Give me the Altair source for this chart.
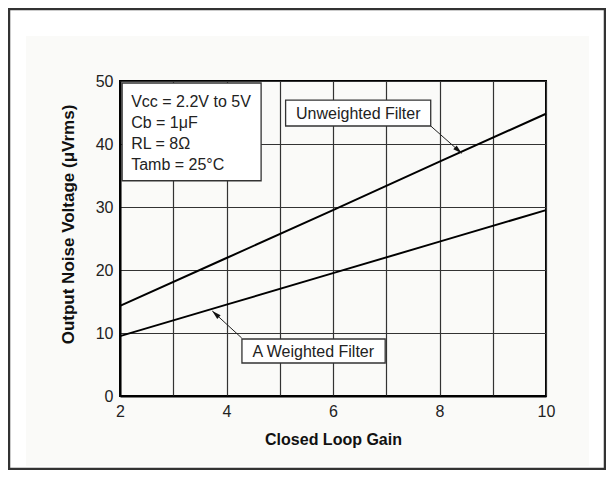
import math
import altair as alt
import pandas as pd

# ---- data ----
gain = [2, 4, 6, 8, 10]
unweighted = [14.3, 21.9, 29.5, 37.2, 44.8]
a_weighted = [9.5, 14.5, 19.5, 24.5, 29.5]
x_ticks = [2, 3, 4, 5, 6, 7, 8, 9, 10]
y_ticks = [0, 5, 10, 15, 20, 25, 30, 35, 40, 45, 50]
cond_lines = ["Vcc = 2.2V to 5V", "Cb = 1\u03bcF", "RL = 8\u03a9", "Tamb = 25\u00b0C"]
series_names = ["Unweighted Filter", "A Weighted Filter"]

# ---- layout ----
W, H = 426, 315
FONT = "Liberation Sans"
PX_X = W / (x_ticks[-1] - x_ticks[0])
PX_Y = H / (y_ticks[-1] - y_ticks[0])

xs = alt.Scale(domain=[2, 10], nice=False, zero=False)
ys = alt.Scale(domain=[0, 50], nice=False, zero=False)

df = pd.DataFrame({
    "gain": gain + gain,
    "noise": unweighted + a_weighted,
    "series": [series_names[0]] * len(gain) + [series_names[1]] * len(gain),
})

one = pd.DataFrame({"a": [0]})

# white margin bands around the light-grey panel (outside the plot area)
band_left = alt.Chart(one).mark_rect(color="white").encode(
    x=alt.value(-112), x2=alt.value(-94), y=alt.value(-73), y2=alt.value(389))
band_right = alt.Chart(one).mark_rect(color="white").encode(
    x=alt.value(469), x2=alt.value(486), y=alt.value(-73), y2=alt.value(389))
band_top = alt.Chart(one).mark_rect(color="white").encode(
    x=alt.value(-112), x2=alt.value(486), y=alt.value(-73), y2=alt.value(-45))
band_bottom = alt.Chart(one).mark_rect(color="white").encode(
    x=alt.value(-112), x2=alt.value(486), y=alt.value(385), y2=alt.value(389))
frame = alt.Chart(one).mark_rect(fillOpacity=0, stroke="#333333", strokeWidth=2.5).encode(
    x=alt.value(-111), x2=alt.value(485), y=alt.value(-72), y2=alt.value(388)
)

lines = alt.Chart(df).mark_line(color="black", strokeWidth=2).encode(
    x=alt.X("gain:Q", scale=xs,
            axis=alt.Axis(values=x_ticks, title="Closed Loop Gain",
                          labelExpr="datum.value % 2 == 0 ? datum.label : ''")),
    y=alt.Y("noise:Q", scale=ys,
            axis=alt.Axis(values=y_ticks, title="Output Noise Voltage (\u03bcVrms)",
                          titleFontSize=17, titleY=143,
                          labelExpr="datum.value % 10 == 0 ? datum.label : ''")),
    detail="series:N",
)

# annotation boxes (data units)
boxes = pd.DataFrame({
    "x": [2.04, 5.11, 4.29],
    "x2": [4.65, 7.835, 6.98],
    "y": [49.68, 46.98, 9.05],
    "y2": [34.17, 42.86, 5.24],
})
box_layer = alt.Chart(boxes).mark_rect(fill="white", stroke="#333333", strokeWidth=1.3).encode(
    x=alt.X("x:Q", scale=xs), x2="x2:Q", y=alt.Y("y:Q", scale=ys), y2="y2:Q"
)

cond = pd.DataFrame({"t": cond_lines, "x": [2.21] * 4, "y": [45.92, 42.57, 39.22, 35.87]})
cond_text = alt.Chart(cond).mark_text(
    align="left", baseline="alphabetic", font=FONT, fontSize=16, color="#222222"
).encode(x=alt.X("x:Q", scale=xs), y=alt.Y("y:Q", scale=ys), text="t:N")

lab = pd.DataFrame({"t": series_names, "x": [6.475, 5.63], "y": [43.92, 6.24]})
lab_text = alt.Chart(lab).mark_text(
    align="center", baseline="alphabetic", font=FONT, fontSize=16, color="#222222"
).encode(x=alt.X("x:Q", scale=xs), y=alt.Y("y:Q", scale=ys), text="t:N")

arr = pd.DataFrame({"x": [7.835, 4.285], "y": [42.86, 9.21], "x2": [8.417, 3.733], "y2": [38.52, 13.49]})
arr["ang"] = [
    math.degrees(math.atan2((b - a) * PX_X, (d - c) * PX_Y)) % 360
    for a, b, c, d in zip(arr["x"], arr["x2"], arr["y"], arr["y2"])
]
arrow_lines = alt.Chart(arr).mark_rule(color="#222222", strokeWidth=1).encode(
    x=alt.X("x:Q", scale=xs), x2="x2:Q", y=alt.Y("y:Q", scale=ys), y2="y2:Q"
)
heads = alt.Chart(arr).mark_point(
    shape="M0,0L0.5,1.8L-0.5,1.8Z", filled=True, color="#111111", opacity=1, size=100
).encode(
    x=alt.X("x2:Q", scale=xs), y=alt.Y("y2:Q", scale=ys),
    angle=alt.Angle("ang:Q", scale=None),
)

chart = alt.layer(
    band_left, band_right, band_top, band_bottom, frame,
    lines, box_layer, cond_text, lab_text, arrow_lines, heads
).properties(
    width=W, height=H,
    padding={"left": 112, "top": 73, "right": 60, "bottom": 74},
    autosize=alt.AutoSizeParams(type="none"),
).configure(
    background="#fafaf8", font=FONT
).configure_view(
    stroke="black", strokeWidth=2
).configure_axis(
    grid=True, gridColor="#333333", gridWidth=1.2, gridOpacity=1,
    ticks=False, domainColor="black", domainWidth=2, labelFlush=False,
    labelFont=FONT, labelFontSize=16, labelColor="#222222",
    titleFont=FONT, titleFontSize=16, titleFontWeight="bold", titleColor="#111111",
).configure_axisX(
    labelPadding=7, titlePadding=12
).configure_axisY(
    labelPadding=7, titlePadding=18
)

chart.save("out.html", embed_options={"renderer": "svg", "actions": False})
